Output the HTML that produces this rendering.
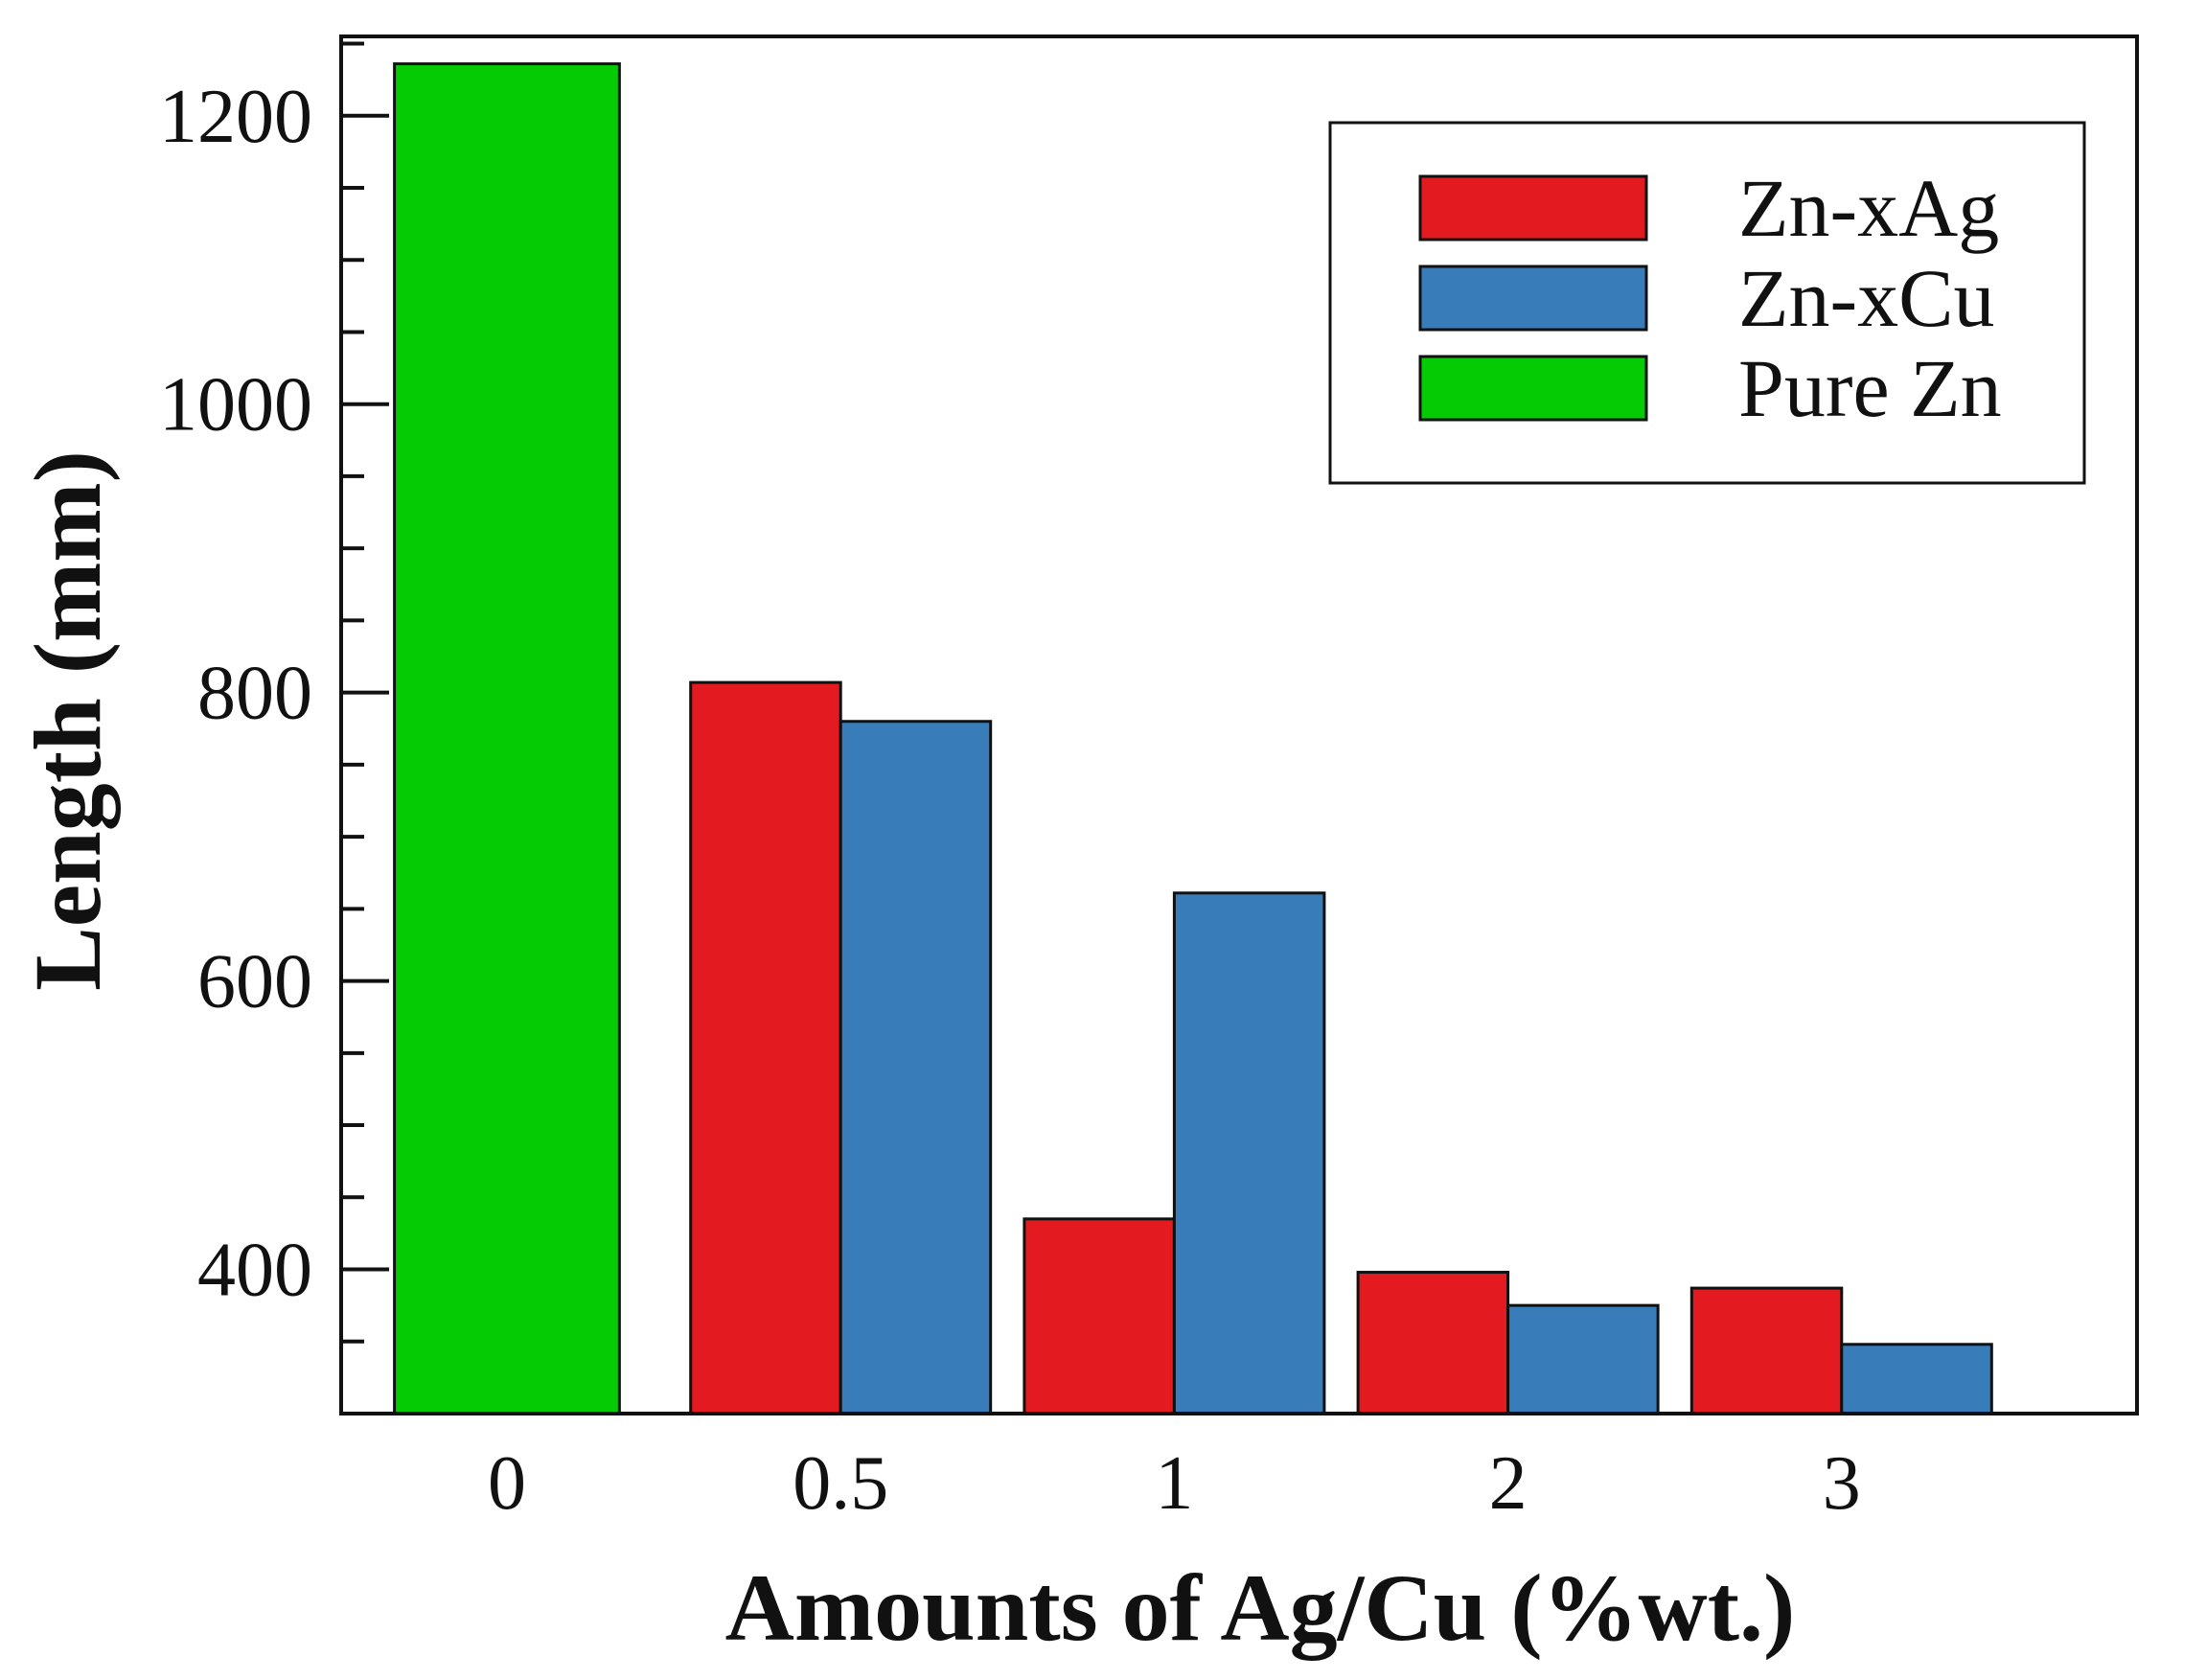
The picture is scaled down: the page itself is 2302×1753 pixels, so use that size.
<!DOCTYPE html>
<html><head><meta charset="utf-8"><style>
html,body{margin:0;padding:0;background:#fff}
svg{display:block}
text{font-family:"Liberation Serif",serif;fill:#111}
</style></head><body>
<svg id="chart" width="2302" height="1753" viewBox="0 0 2302 1753">
<g id="plot"></g>
</svg>
<script>
const categories = ["0","0.5","1","2","3"];
const pureZn = [1236, null, null, null, null];
const znAg = [null, 807, 435, 398, 387];
const znCu = [null, 780, 661, 375, 348];
const yTicks = [400, 600, 800, 1000, 1200];
const yMinorTicks = [350, 450, 500, 550, 650, 700, 750, 850, 900, 950, 1050, 1100, 1150, 1250];
const legendLabels = ["Zn-xAg", "Zn-xCu", "Pure Zn"];

const NS = "http://www.w3.org/2000/svg";
const L = 356, R = 2230, T = 38, B = 1475;
const yMin = 300, yMax = 1255;
const y = v => B - (v - yMin) / (yMax - yMin) * (B - T);
const catX = i => 529 + i * 348.2;
const bw = 156.5;
const g = document.getElementById("plot");
function mk(tag, attrs, parent) {
  const e = document.createElementNS(NS, tag);
  for (const k in attrs) e.setAttribute(k, attrs[k]);
  (parent || g).appendChild(e);
  return e;
}
const colors = {ag: "#e31a1f", cu: "#387dba", zn: "#04cb04"};
pureZn.forEach((v, i) => {
  if (v == null) return;
  const w = bw * 1.5;
  const r = mk("rect", {x: catX(i) - w / 2, y: y(v), width: w, height: B - y(v), fill: colors.zn, stroke: "#111", "stroke-width": 3});
  
  
});
znAg.forEach((v, i) => {
  if (v == null) return;
  const r = mk("rect", {x: catX(i) - bw, y: y(v), width: bw, height: B - y(v), fill: colors.ag, stroke: "#111", "stroke-width": 3});
  
  
});
znCu.forEach((v, i) => {
  if (v == null) return;
  const r = mk("rect", {x: catX(i), y: y(v), width: bw, height: B - y(v), fill: colors.cu, stroke: "#111", "stroke-width": 3});
  
  
});
const frame = mk("rect", {x: L, y: T, width: R - L, height: B - T, fill: "none", stroke: "#111", "stroke-width": 4});


yTicks.forEach(v => {
  const t = mk("line", {x1: L, x2: L + 50, y1: y(v), y2: y(v), stroke: "#111", "stroke-width": 4});
  
  
  const lb = mk("text", {x: 326, y: y(v) + 27, "font-size": 80, "text-anchor": "end"});
  lb.textContent = v;
  
  
});
yMinorTicks.forEach(v => {
  const t = mk("line", {x1: L, x2: L + 24, y1: y(v), y2: y(v), stroke: "#111", "stroke-width": 4});
  
  
});
categories.forEach((c, i) => {
  const lb = mk("text", {x: catX(i), y: 1574, "font-size": 80, "text-anchor": "middle"});
  lb.textContent = c;
  
  
});
const xt = mk("text", {x: 1315, y: 1711, "font-size": 100, "font-weight": "bold", "text-anchor": "middle"});
xt.textContent = "Amounts of Ag/Cu (%wt.)";


const yt = mk("text", {x: 0, y: 0, "font-size": 100, "font-weight": "bold", "text-anchor": "middle", transform: "translate(104,752) rotate(-90)"});
yt.textContent = "Length (mm)";


const lg = mk("g", {});


mk("rect", {x: 1388, y: 128, width: 787, height: 376, fill: "#fff", stroke: "#111", "stroke-width": 3}, lg);
const legendColors = [colors.ag, colors.cu, colors.zn];
legendLabels.forEach((name, i) => {
  const cy = 217 + i * 94;
  const e = mk("g", {}, lg);
  
  
  mk("rect", {x: 1482, y: cy - 33, width: 236, height: 66, fill: legendColors[i], stroke: "#111", "stroke-width": 3}, e);
  const t = mk("text", {x: 1814, y: cy + 29, "font-size": 86}, e);
  t.textContent = name;
});
</script>
</body></html>
